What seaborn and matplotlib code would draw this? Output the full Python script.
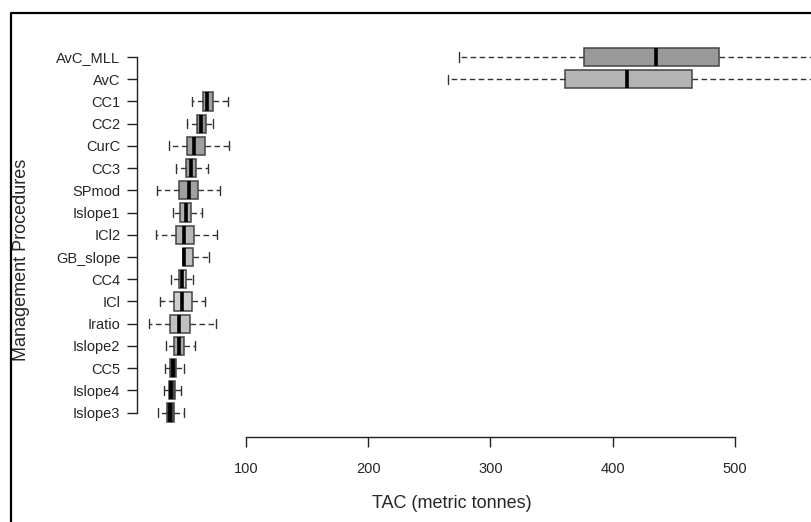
import pandas as pd
import matplotlib
matplotlib.use("Agg")
import matplotlib.pyplot as plt
from matplotlib.lines import Line2D
import seaborn as sns

# ------------------------------------------
# Data: five-number summaries
# ------------------------------------------
procedures = ["AvC_MLL", "AvC", "CC1", "CC2", "CurC", "CC3", "SPmod", "Islope1",
              "ICl2", "GB_slope", "CC4", "ICl", "Iratio", "Islope2", "CC5",
              "Islope4", "Islope3"]
lower_whisker = [274, 265, 56, 51.5, 37, 43, 27.5, 40, 26.5, 48.2, 39, 29.7, 21, 34.3, 33.5, 32.7, 27.8]
q1 = [376.5, 361, 64.6, 59.7, 51.5, 51, 45.2, 45.8, 42.7, 48.2, 45.2, 41.2, 37.6, 41.2, 38.1, 36.8, 35.6]
median = [435, 412, 68.4, 62.9, 57.2, 55, 53.4, 51.2, 49.5, 49.3, 47.9, 47.3, 45, 45.2, 40, 38.8, 37.8]
q3 = [487, 465, 73.3, 67, 66.2, 58.9, 61, 54.8, 57.7, 56.9, 50.7, 56, 54.4, 49, 42.7, 41.9, 41.3]
upper_whisker = [600, 590, 85.5, 73, 86, 68.7, 79, 63.8, 76.3, 69.5, 56.9, 66.7, 75.5, 58, 49, 46.8, 49]
box_colors = ["#9a9a9a", "#b4b4b4", "#a0a0a0", "#8e8e8e", "#a0a0a0", "#9c9c9c", "#a0a0a0", "#b0b0b0",
              "#b8b8b8", "#c0c0c0", "#d0d0d0", "#cfcfcf", "#c0c0c0", "#a8a8a8", "#4a4a4a",
              "#4a4a4a", "#404040"]

rows = []
for i, mp in enumerate(procedures):
    for v in (lower_whisker[i], q1[i], median[i], q3[i], upper_whisker[i]):
        rows.append({"MP": mp, "TAC": v})
df = pd.DataFrame(rows)

# ------------------------------------------
# Plot
# ------------------------------------------
sns.set_style("white")
plt.rcParams["font.family"] = ["Liberation Sans", "DejaVu Sans"]

fig = plt.figure(figsize=(8.11, 5.22), dpi=100)
ax = fig.add_axes([137 / 811, 1 - 425 / 522, 1 - 137 / 811, 380 / 522])

sns.boxplot(data=df, x="TAC", y="MP", hue="MP", order=procedures, hue_order=procedures,
            palette=dict(zip(procedures, box_colors)), legend=False, whis=(0, 100),
            width=0.82, linewidth=1.1, linecolor="#444444", showfliers=False, ax=ax,
            medianprops={"color": "black", "linewidth": 2.6},
            whiskerprops={"linestyle": (0, (4, 2.5)), "color": "#333333", "linewidth": 1},
            capprops={"color": "#333333", "linewidth": 1})

ax.set_xlim(10.84, 562.2)
ax.set_ylim(16.56, -0.54)

for s in ["top", "right"]:
    ax.spines[s].set_visible(False)
ax.spines["left"].set_bounds(0, 16)
ax.spines["bottom"].set_bounds(100, 500)
ax.spines["bottom"].set_position(("outward", 8.6))
for s in ["left", "bottom"]:
    ax.spines[s].set_color("#222222")
    ax.spines[s].set_linewidth(1)

ax.set_xticks([100, 200, 300, 400, 500])
ax.set_xticklabels(["100", "200", "300", "400", "500"])
ax.tick_params(axis="x", bottom=True, direction="out", length=7, width=1, color="#222222",
               pad=11, labelsize=10.5)
ax.tick_params(axis="y", left=True, direction="out", length=7, width=1, color="#222222",
               pad=5, labelsize=10.5)

ax.set_xlabel("TAC (metric tonnes)", fontsize=13)
ax.xaxis.label.set_va("center")
ax.xaxis.set_label_coords((452 - 137) / 674, (425 - 503) / 380)
ax.set_ylabel("Management Procedures", fontsize=13)
ax.yaxis.label.set_va("center")
ax.yaxis.set_label_coords((22 - 137) / 674, (425 - 260) / 380)

# border of the original figure
fig.add_artist(Line2D([11 / 811, 11 / 811, 1], [0, 1 - 13 / 522, 1 - 13 / 522],
                      transform=fig.transFigure, color="black", linewidth=1.6))

plt.savefig("out.png", dpi=100)
